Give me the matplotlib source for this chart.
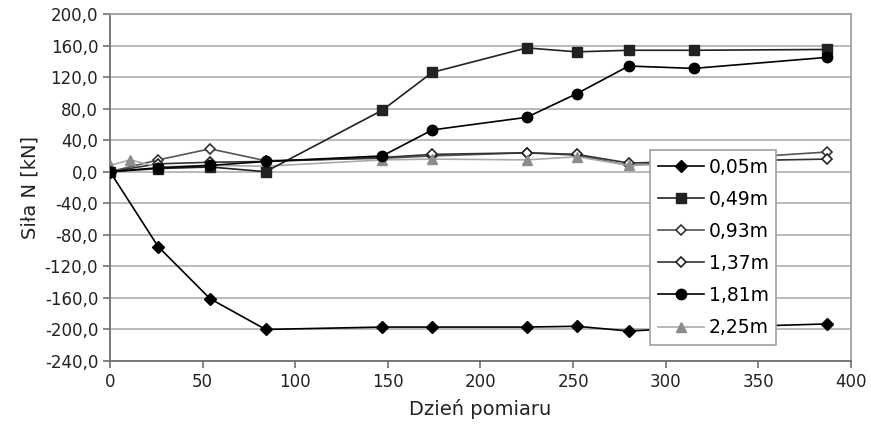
import matplotlib
matplotlib.use("Agg")
import matplotlib.pyplot as plt
from matplotlib.ticker import FuncFormatter

plt.rcParams["font.family"] = ["DejaVu Sans"]

# measurement days
days = [0, 26, 54, 84, 147, 174, 225, 252, 280, 315, 387]
days_225 = [0, 11, 26, 54, 84, 147, 174, 225, 252, 280, 315]

# force N [kN] per depth
n_005 = [0, -95, -161, -200, -197, -197, -197, -196, -202, -198, -193]
n_049 = [0, 4, 6, 0, 78, 126, 157, 152, 154, 154, 155]
n_093 = [0, 15, 29, 14, 17, 20, 24, 21, 8, 14, 25]
n_137 = [0, 10, 12, 13, 18, 22, 24, 22, 11, 13, 16]
n_181 = [0, 5, 8, 13, 20, 53, 69, 99, 134, 131, 145]
n_225 = [8, 15, 6, 8, 7, 15, 16, 15, 19, 8, 10]

labels = ["0,05m", "0,49m", "0,93m", "1,37m", "1,81m", "2,25m"]

fig = plt.figure(figsize=(8.71, 4.32), dpi=100)
ax = fig.add_axes([0.1263, 0.1644, 0.8507, 0.8032])

ax.plot(days, n_005, color="black", lw=1.2, marker="D", ms=6.5, mfc="black", mec="black", label=labels[0], zorder=4)
ax.plot(days, n_049, color="#222222", lw=1.2, marker="s", ms=7.5, mfc="#222222", mec="#222222", label=labels[1], zorder=4)
ax.plot(days, n_093, color="#555555", lw=1.2, marker="D", ms=5.5, mfc="white", mec="#333333", mew=1.2, label=labels[2], zorder=3)
ax.plot(days, n_137, color="#333333", lw=1.2, marker="D", ms=5.5, mfc="white", mec="#222222", mew=1.2, label=labels[3], zorder=3)
ax.plot(days, n_181, color="black", lw=1.2, marker="o", ms=7.5, mfc="black", mec="black", label=labels[4], zorder=4)
ax.plot(days_225, n_225, color="#aaaaaa", lw=1.2, marker="^", ms=7.5, mfc="#8c8c8c", mec="#8c8c8c", label=labels[5], zorder=3)

ax.set_xlim(0, 400)
ax.set_ylim(-240, 200)
ax.set_xticks(range(0, 401, 50))
ax.set_yticks(range(-240, 201, 40))
ax.yaxis.set_major_formatter(FuncFormatter(lambda v, p: f"{v:.1f}".replace(".", ",")))
ax.grid(axis="y", color="#b4b4b4", lw=1.3)
ax.set_axisbelow(True)

for s in ["top", "right"]:
    ax.spines[s].set_color("#a0a0a0")
    ax.spines[s].set_linewidth(1.3)
for s in ["left", "bottom"]:
    ax.spines[s].set_color("#707070")
    ax.spines[s].set_linewidth(1.3)
ax.tick_params(direction="out", length=5, width=1.2, color="#707070", labelsize=12, labelcolor="#222222")

ax.set_xlabel("Dzień pomiaru", fontsize=14, color="#222222", labelpad=6)
ax.set_ylabel("Siła N [kN]", fontsize=14, color="#222222", labelpad=4)

leg = ax.legend(loc="upper left", bbox_to_anchor=(0.729, 0.608), fontsize=13.5,
                fancybox=False, framealpha=1, edgecolor="#a0a0a0",
                handlelength=2.45, handletextpad=0.27, labelspacing=0.70,
                borderpad=0.4, borderaxespad=0)
leg.get_frame().set_linewidth(1.2)
leg.set_zorder(10)

fig.savefig("out.png", dpi=100)
